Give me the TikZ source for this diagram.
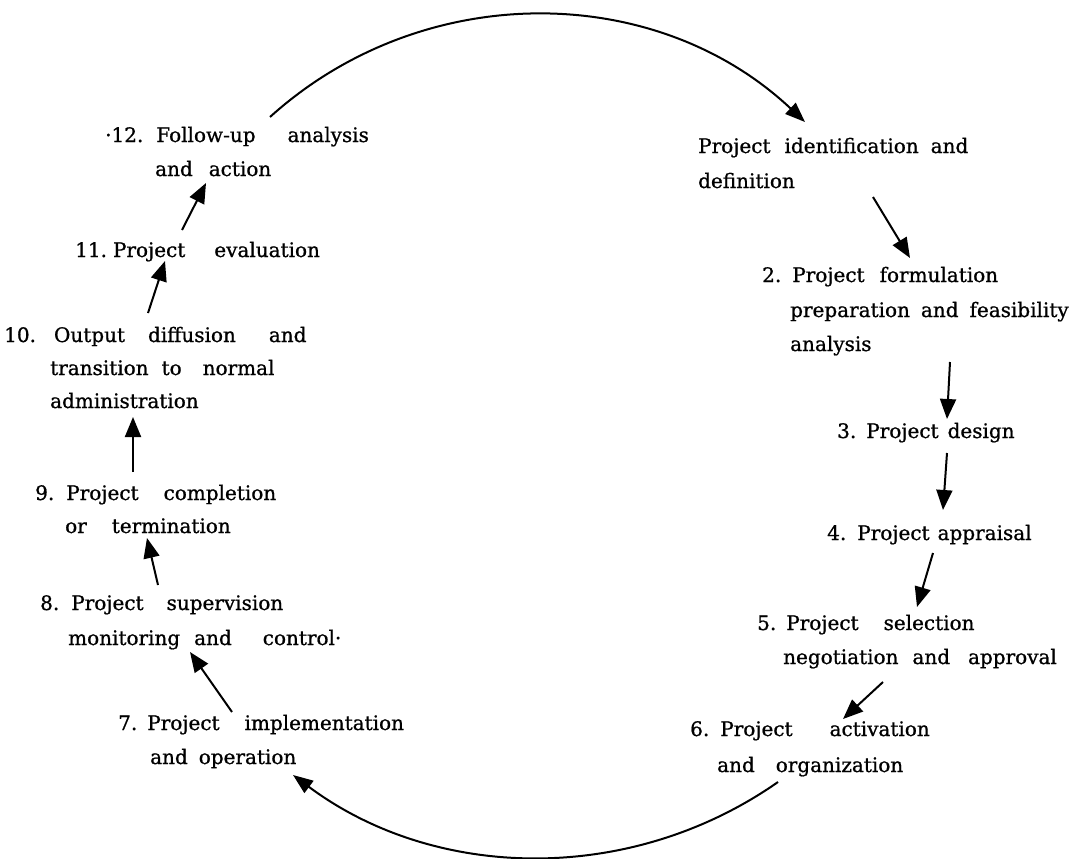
\documentclass[tikz,border=0pt]{standalone}
\usepackage{fontspec}
\setmainfont[FakeBold=0.9]{DejaVu Serif}
\usetikzlibrary{arrows.meta}
\newcommand\wsp[1]{\hspace*{#1pt}}
\tikzset{
  txt/.style={anchor=base west, inner sep=0pt, text=black,
    font=\fontsize{20}{24}\selectfont},
  flow/.style={line width=2pt, draw=black,
    -{Triangle[length=20pt,width=16pt]}},
  cycle/.style={line width=2pt, draw=black,
    -{Triangle[length=20pt,width=15pt]}}
}
\begin{document}
\begin{tikzpicture}[x=1pt,y=-1pt]
\useasboundingbox[fill=white] (0,0) rectangle (1077,859);

% right column: stages 1 to 6
\node[txt] (t1a) at (698,153) {Project\wsp{14}identification\wsp{12}and};
\node[txt] (t1b) at (698,188) {definition};
\node[txt] (t2a) at (762,282) {2.\wsp{11}Project\wsp{15}formulation};
\node[txt] (t2b) at (790,317) {preparation\wsp{11}and\wsp{11}feasibility};
\node[txt] (t2c) at (790,351) {analysis};
\node[txt] (t3)  at (837,438) {3.\wsp{10}Project\wsp{9}design};
\node[txt] (t4)  at (827,540) {4.\wsp{11}Project\wsp{8}appraisal};
\node[txt] (t5a) at (757,630) {5.\wsp{10}Project\wsp{25}selection};
\node[txt] (t5b) at (783,664) {negotiation\wsp{14}and\wsp{18}approval};
\node[txt] (t6a) at (690,736) {6.\wsp{11}Project\wsp{37}activation};
\node[txt] (t6b) at (717,772) {and\wsp{21}organization};

% left column: stages 7 to 12
\node[txt] (t7a)  at (118,730) {7.\wsp{10}Project\wsp{25}implementation};
\node[txt] (t7b)  at (150,764) {and\wsp{11}operation};
\node[txt] (t8a)  at (40,610)  {8.\wsp{12}Project\wsp{23}supervision};
\node[txt] (t8b)  at (68,645)  {monitoring\wsp{14}and\wsp{31}control·};
\node[txt] (t9a)  at (35,500)  {9.\wsp{12}Project\wsp{25}completion};
\node[txt] (t9b)  at (65,533)  {or\wsp{25}termination};
\node[txt] (t10a) at (4,342)   {10.\wsp{18}Output\wsp{23}diffusion\wsp{33}and};
\node[txt] (t10b) at (50,375)  {transition\wsp{13}to\wsp{21}normal};
\node[txt] (t10c) at (50,408)  {administration};
\node[txt] (t11)  at (75,257)  {11.\wsp{6}Project\wsp{29}evaluation};
\node[txt] (t12a) at (105,142) {·12.\wsp{13}Follow-up\wsp{32}analysis};
\node[txt] (t12b) at (155,176) {and\wsp{16}action};

% arrow end points
\coordinate (s1)  at (873,197);  \coordinate (e1)  at (910,258);
\coordinate (s2)  at (950,362);  \coordinate (e2)  at (947,419);
\coordinate (s3)  at (947,453);  \coordinate (e3)  at (943,510);
\coordinate (s4)  at (933,553);  \coordinate (e4)  at (917,607);
\coordinate (s5)  at (883,682);  \coordinate (e5)  at (843,719);
\coordinate (s6)  at (778,782);  \coordinate (e6)  at (293,775);
\coordinate (s7)  at (232,712);  \coordinate (e7)  at (190,652);
\coordinate (s8)  at (158,585);  \coordinate (e8)  at (147,538);
\coordinate (s9)  at (133,472);  \coordinate (e9)  at (133,417);
\coordinate (s10) at (148,313);  \coordinate (e10) at (165,261);
\coordinate (s11) at (182,230);  \coordinate (e11) at (206,183);
\coordinate (s12) at (270,117);  \coordinate (e12) at (805,122);

% straight steps
\draw[flow] (s1)  -- (e1);
\draw[flow] (s2)  -- (e2);
\draw[flow] (s3)  -- (e3);
\draw[flow] (s4)  -- (e4);
\draw[flow] (s5)  -- (e5);
\draw[flow] (s7)  -- (e7);
\draw[flow] (s8)  -- (e8);
\draw[flow] (s9)  -- (e9);
\draw[flow] (s10) -- (e10);
\draw[flow] (s11) -- (e11);

% the two arcs closing the cycle
\draw[cycle] (s6) .. controls (631.7,884.5) and (436.2,881.8) .. (e6);
\draw[cycle] (s12) .. controls (422.5,-20.7) and (655.2,-18.8) .. (e12);
\end{tikzpicture}
\end{document}
